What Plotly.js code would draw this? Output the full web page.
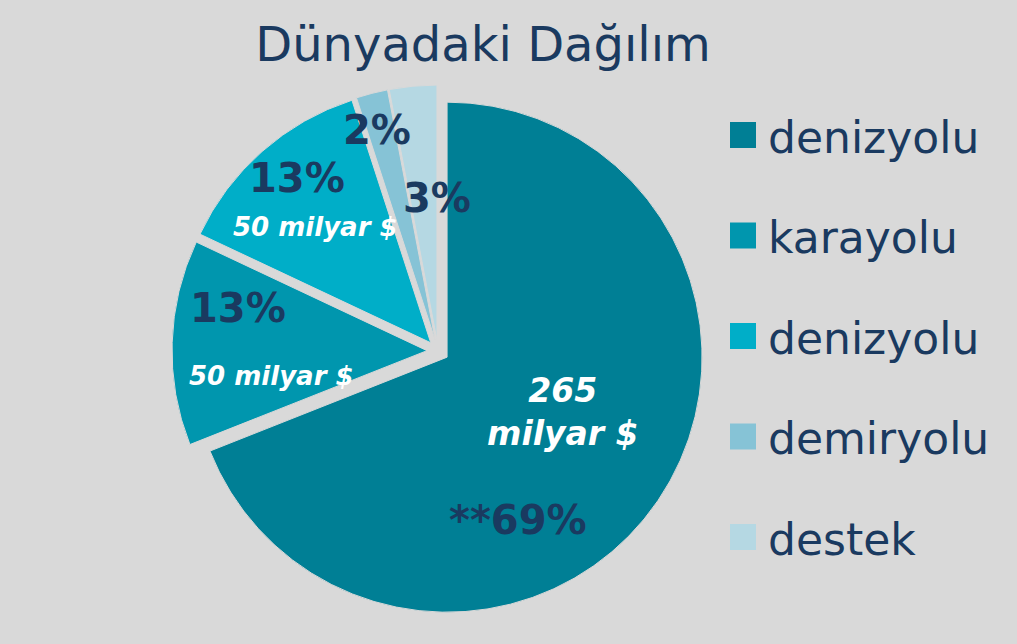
<!DOCTYPE html>
<html>
<head>
<meta charset="utf-8">
<script src="https://cdn.plot.ly/plotly-3.0.1.min.js"></script>
<style>html,body{margin:0;padding:0;background:#d9d9d9;}#chart{width:1017px;height:644px;}</style>
</head>
<body>
<div id="chart"></div>
<script>
// ---- data ----
const categories = ['denizyolu', 'karayolu', 'denizyolu', 'demiryolu', 'destek'];
const shares = [69, 13, 13, 2, 3];
const percentLabels = ['**69%', '13%', '13%', '2%', '3%'];
const valueLabels = ['265<br>milyar $', '50 milyar $', '50 milyar $', '', ''];
const titleText = 'Dünyadaki Dağılım';

// ---- styles ----
const sliceColors = ['#007f95', '#0096ae', '#00aec8', '#86c3d6', '#b5d8e3'];
const navy = '#1a3a60';
const bg = '#d9d9d9';
const W = 1017, H = 644;
const px = x => x / W;
const py = y => 1 - y / H;

// label positions (page px) for percent and value texts
const pctPos = [[518, 520], [238, 308], [297, 178], [377, 130], [437, 198]];
const valPos = [[563, 412], [271, 376], [315, 227], null, null];

const trace = {
  type: 'pie',
  values: shares,
  text: categories,
  textinfo: 'none',
  hoverinfo: 'text+percent',
  sort: false,
  direction: 'clockwise',
  rotation: 0,
  pull: shares.map(() => 0.043),
  marker: { colors: sliceColors, line: { color: bg, width: 1 } },
  domain: { x: [px(172), px(704)], y: [py(617), py(85)] },
  showlegend: false
};

const annotations = [];
percentLabels.forEach((t, i) => {
  annotations.push({
    xref: 'paper', yref: 'paper', x: px(pctPos[i][0]), y: py(pctPos[i][1]),
    xanchor: 'center', yanchor: 'middle', showarrow: false,
    text: '<b>' + t + '</b>',
    font: { family: 'DejaVu Sans', size: 40, color: navy }
  });
  if (valueLabels[i]) {
    annotations.push({
      xref: 'paper', yref: 'paper', x: px(valPos[i][0]), y: py(valPos[i][1]),
      xanchor: 'center', yanchor: 'middle', showarrow: false,
      text: '<b><i>' + valueLabels[i] + '</i></b>',
      font: { family: 'DejaVu Sans', size: i === 0 ? 33 : 26, color: '#ffffff' }
    });
  }
});

// custom legend (large square keys)
const shapes = [];
categories.forEach((c, i) => {
  const cy = 135 + i * 100.5;
  shapes.push({
    type: 'rect', xref: 'paper', yref: 'paper',
    x0: px(730), x1: px(756), y0: py(cy + 13), y1: py(cy - 13),
    fillcolor: sliceColors[i], line: { width: 0 }
  });
  annotations.push({
    xref: 'paper', yref: 'paper', x: px(766), y: py(cy + 2),
    xanchor: 'left', yanchor: 'middle', showarrow: false,
    text: c,
    font: { family: 'DejaVu Sans', size: 44, color: navy }
  });
});

const layout = {
  width: W, height: H,
  margin: { l: 0, r: 0, t: 0, b: 0 },
  paper_bgcolor: bg, plot_bgcolor: bg,
  title: {
    text: titleText,
    font: { family: 'DejaVu Sans', size: 48, color: navy },
    x: px(483), xanchor: 'center', xref: 'paper',
    y: py(44), yanchor: 'middle', yref: 'container'
  },
  showlegend: false,
  annotations: annotations,
  shapes: shapes
};

Plotly.newPlot('chart', [trace], layout, { displayModeBar: false, staticPlot: true });
</script>
</body>
</html>
